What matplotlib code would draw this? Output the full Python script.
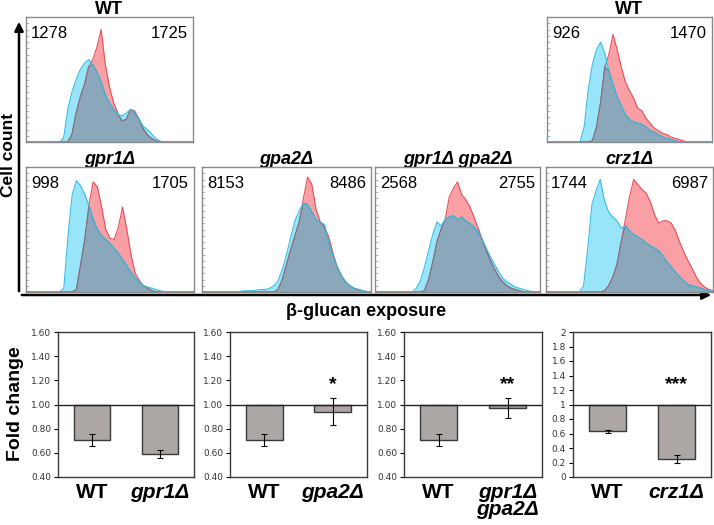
import numpy as np
import matplotlib
matplotlib.use('Agg')
import matplotlib.pyplot as plt

plt.rcParams['font.family'] = ['Liberation Sans', 'DejaVu Sans']

W, H = 714, 525

# ---- flow histograms (heights as fraction of panel, 41 bins across the axis)
hist_titles = ['WT', 'WT', 'gpr1Δ', 'gpa2Δ', 'gpr1Δ gpa2Δ', 'crz1Δ']
hist_left_nums = ['1278', '926', '998', '8153', '2568', '1744']
hist_right_nums = ['1725', '1470', '1705', '8486', '2755', '6987']

wt1_cyan = [0, 0, 0, 0, 0, 0, 0, 0, 0, 0.03, 0.26, 0.40, 0.50, 0.58, 0.63, 0.66, 0.62, 0.56, 0.48, 0.38,
            0.31, 0.26, 0.22, 0.21, 0.23, 0.26, 0.23, 0.19, 0.13, 0.10, 0.07, 0.03, 0.01, 0, 0, 0, 0, 0, 0, 0, 0]
wt1_red = [0, 0, 0, 0, 0, 0, 0, 0, 0, 0, 0, 0.06, 0.23, 0.36, 0.46, 0.60, 0.66, 0.76, 0.90, 0.62,
           0.44, 0.31, 0.23, 0.17, 0.18, 0.26, 0.25, 0.19, 0.11, 0.06, 0.03, 0.01, 0, 0, 0, 0, 0, 0, 0, 0, 0]
wt2_cyan = [0, 0, 0, 0, 0, 0, 0, 0, 0, 0.12, 0.42, 0.62, 0.74, 0.80, 0.71, 0.57, 0.46, 0.36, 0.29, 0.22,
            0.18, 0.16, 0.15, 0.14, 0.12, 0.09, 0.08, 0.06, 0.04, 0.03, 0.02, 0.01, 0, 0, 0, 0, 0, 0, 0, 0, 0]
wt2_red = [0, 0, 0, 0, 0, 0, 0, 0, 0, 0, 0, 0.01, 0.12, 0.32, 0.60, 0.70, 0.86, 0.74, 0.60, 0.48,
           0.41, 0.35, 0.27, 0.25, 0.19, 0.15, 0.11, 0.09, 0.07, 0.06, 0.04, 0.03, 0.02, 0.01, 0, 0, 0, 0, 0, 0, 0]
gpr1_cyan = [0, 0, 0, 0, 0, 0, 0, 0, 0, 0.03, 0.45, 0.78, 0.89, 0.85, 0.78, 0.69, 0.58, 0.50, 0.45, 0.42,
             0.39, 0.35, 0.31, 0.26, 0.21, 0.16, 0.11, 0.08, 0.05, 0.04, 0.03, 0.02, 0.01, 0, 0, 0, 0, 0, 0, 0, 0]
gpr1_red = [0, 0, 0, 0, 0, 0, 0, 0, 0, 0, 0, 0, 0.02, 0.22, 0.42, 0.70, 0.88, 0.84, 0.68, 0.50,
            0.43, 0.42, 0.52, 0.68, 0.50, 0.30, 0.15, 0.09, 0.05, 0.03, 0.01, 0, 0, 0, 0, 0, 0, 0, 0, 0, 0]
gpa2_cyan = [0, 0, 0, 0, 0, 0, 0, 0, 0, 0.005, 0.01, 0.01, 0.01, 0.015, 0.02, 0.02, 0.03, 0.05, 0.09, 0.18,
             0.30, 0.44, 0.57, 0.65, 0.71, 0.70, 0.64, 0.58, 0.56, 0.54, 0.40, 0.29, 0.20, 0.13, 0.08, 0.05,
             0.03, 0.02, 0.01, 0.005, 0]
gpa2_red = [0, 0, 0, 0, 0, 0, 0, 0, 0, 0, 0, 0, 0, 0, 0, 0, 0, 0, 0.02, 0.10,
            0.22, 0.34, 0.45, 0.56, 0.75, 0.92, 0.86, 0.66, 0.56, 0.52, 0.44, 0.31, 0.20, 0.13, 0.08, 0.05,
            0.03, 0.02, 0.01, 0, 0]
dbl_cyan = [0, 0, 0, 0, 0, 0, 0, 0, 0, 0, 0.03, 0.09, 0.20, 0.33, 0.46, 0.56, 0.53, 0.58, 0.60, 0.61,
            0.58, 0.60, 0.57, 0.55, 0.52, 0.48, 0.42, 0.35, 0.28, 0.22, 0.16, 0.11, 0.08, 0.06, 0.04, 0.03,
            0.02, 0.01, 0.005, 0, 0]
dbl_red = [0, 0, 0, 0, 0, 0, 0, 0, 0, 0, 0, 0, 0.01, 0.10, 0.24, 0.40, 0.50, 0.58, 0.76, 0.83,
           0.88, 0.78, 0.74, 0.68, 0.60, 0.51, 0.42, 0.33, 0.25, 0.18, 0.12, 0.08, 0.05, 0.03, 0.02, 0.01,
           0, 0, 0, 0, 0]
crz1_cyan = [0, 0, 0, 0, 0, 0, 0, 0, 0, 0.05, 0.35, 0.70, 0.81, 0.90, 0.73, 0.64, 0.60, 0.57, 0.51, 0.53,
             0.49, 0.46, 0.44, 0.42, 0.39, 0.37, 0.35, 0.33, 0.29, 0.24, 0.20, 0.16, 0.12, 0.09, 0.06, 0.05,
             0.04, 0.03, 0.02, 0.01, 0.005]
crz1_red = [0, 0, 0, 0, 0, 0, 0, 0, 0, 0, 0, 0, 0, 0, 0.01, 0.05, 0.12, 0.22, 0.40, 0.58,
            0.76, 0.90, 0.86, 0.82, 0.79, 0.72, 0.62, 0.55, 0.57, 0.57, 0.55, 0.49, 0.40, 0.32, 0.25, 0.19,
            0.12, 0.07, 0.04, 0.02, 0.01]

hist_cyan = [wt1_cyan, wt2_cyan, gpr1_cyan, gpa2_cyan, dbl_cyan, crz1_cyan]
hist_red = [wt1_red, wt2_red, gpr1_red, gpa2_red, dbl_red, crz1_red]

# ---- fold change bars
bar_labels = [['WT', 'gpr1Δ'], ['WT', 'gpa2Δ'], ['WT', 'gpr1Δ\ngpa2Δ'], ['WT', 'crz1Δ']]
fold_values = [[0.71, 0.59], [0.71, 0.94], [0.71, 0.97], [0.63, 0.25]]
fold_errors = [[0.05, 0.03], [0.05, 0.11], [0.05, 0.08], [0.02, 0.05]]
stars = ['', '*', '**', '***']

# panel boxes in pixels (left, top, right, bottom)
hist_boxes = [(26, 17, 193, 142), (547, 17, 712, 142), (26, 167, 194, 292),
              (202, 167, 371, 292), (375, 167, 540, 292), (546, 167, 713, 292)]
bar_boxes = [(58, 332, 194, 477), (230, 332, 367, 477), (404, 332, 542, 477), (573, 332, 711, 477)]

RED_FILL = '#faa0a4'
RED_LINE = '#e5505a'
CYAN_FILL = '#98e4f8'
CYAN_LINE = '#36bde3'
OVERLAP = '#8aa7bc'


def px_axes(fig, box):
    x0, y0, x1, y1 = box
    return fig.add_axes([x0 / W, 1 - y1 / H, (x1 - x0) / W, (y1 - y0) / H])


fig = plt.figure(figsize=(W / 100, H / 100), dpi=100)

# overlay in pixel coordinates for arrows and big labels
ov = fig.add_axes([0, 0, 1, 1])
ov.set_xlim(0, W)
ov.set_ylim(H, 0)
ov.axis('off')
ov.annotate('', xy=(19, 19), xytext=(19, 294),
            arrowprops=dict(arrowstyle='-|>', lw=1.8, color='black', mutation_scale=13))
ov.annotate('', xy=(714, 295), xytext=(19, 295),
            arrowprops=dict(arrowstyle='-|>', lw=1.8, color='black', mutation_scale=13))
ov.text(9, 155, 'Cell count', rotation=90, ha='center', va='center', fontsize=12.5, fontweight='bold')
ov.text(366, 311, 'β-glucan exposure', ha='center', va='center', fontsize=13, fontweight='bold')
ov.text(16, 404, 'Fold change', rotation=90, ha='center', va='center', fontsize=14, fontweight='bold')

xs = np.linspace(0, 1, 41)
for i, box in enumerate(hist_boxes):
    ax = px_axes(fig, box)
    red = np.array(hist_red[i])
    cyan = np.array(hist_cyan[i])
    both = np.minimum(red, cyan)
    ax.fill_between(xs, 0, red, color=RED_FILL, lw=0)
    ax.fill_between(xs, 0, cyan, color=CYAN_FILL, lw=0)
    ax.fill_between(xs, 0, both, color=OVERLAP, lw=0)
    ax.plot(xs, red, color=RED_LINE, lw=0.8)
    ax.plot(xs, both, color='#6f7a8c', lw=0.8)
    ax.plot(xs, cyan, color=CYAN_LINE, lw=0.8)
    ax.set_xlim(0, 1)
    ax.set_ylim(0, 1)
    ax.set_xticks([])
    ax.set_yticks(np.arange(0, 1.01, 0.05))
    ax.tick_params(axis='y', direction='in', length=2, width=0.5, color='#999999', labelleft=False)
    for s in ax.spines.values():
        s.set_color('#8a8a8a')
        s.set_linewidth(1.0)
    ax.text(0.03, 0.87, hist_left_nums[i], transform=ax.transAxes, ha='left', va='center', fontsize=12)
    ax.text(0.97, 0.87, hist_right_nums[i], transform=ax.transAxes, ha='right', va='center', fontsize=12)
    cx = (box[0] + box[2]) / 2
    style = 'normal' if hist_titles[i] == 'WT' else 'italic'
    ov.text(cx, box[1] - 8, hist_titles[i], ha='center', va='center', fontsize=13,
            fontweight='bold', style=style)

for i, box in enumerate(bar_boxes):
    ax = px_axes(fig, box)
    vals = np.array(fold_values[i])
    ax.bar([0, 1], vals - 1, bottom=1, width=0.54, color='#aca7a5', edgecolor='#3a3a3a', lw=1,
           yerr=fold_errors[i], capsize=2.5, error_kw=dict(lw=0.8, capthick=0.8, ecolor='black'))
    ax.axhline(1, color='#222222', lw=1, zorder=3)
    ax.set_xlim(-0.5, 1.5)
    if i < 3:
        ax.set_ylim(0.4, 1.6)
        ticks = np.arange(0.4, 1.61, 0.2)
        ax.set_yticks(ticks)
        ax.set_yticklabels(['%.2f' % t for t in ticks])
    else:
        ax.set_ylim(0, 2)
        ticks = np.arange(0, 2.01, 0.2)
        ax.set_yticks(ticks)
        ax.set_yticklabels(['%g' % round(t, 1) for t in ticks])
    ax.tick_params(axis='y', length=3, width=0.8, labelsize=6.5, pad=2, labelcolor='#333333')
    for lab in ax.get_yticklabels():
        lab.set_family('DejaVu Sans')
    ax.set_xticks([0, 1])
    ax.set_xticklabels(bar_labels[i], fontsize=15, fontweight='bold', linespacing=0.9)
    ax.tick_params(axis='x', length=0, pad=4)
    ax.get_xticklabels()[1].set_style('italic')
    for s in ax.spines.values():
        s.set_color('#3a3a3a')
        s.set_linewidth(1.0)
    if stars[i]:
        ylo, yhi = ax.get_ylim()
        ax.text(1, ylo + (yhi - ylo) * 0.64, stars[i], ha='center', va='center', fontsize=14,
                fontweight='bold')

fig.savefig('out.png', dpi=100)
